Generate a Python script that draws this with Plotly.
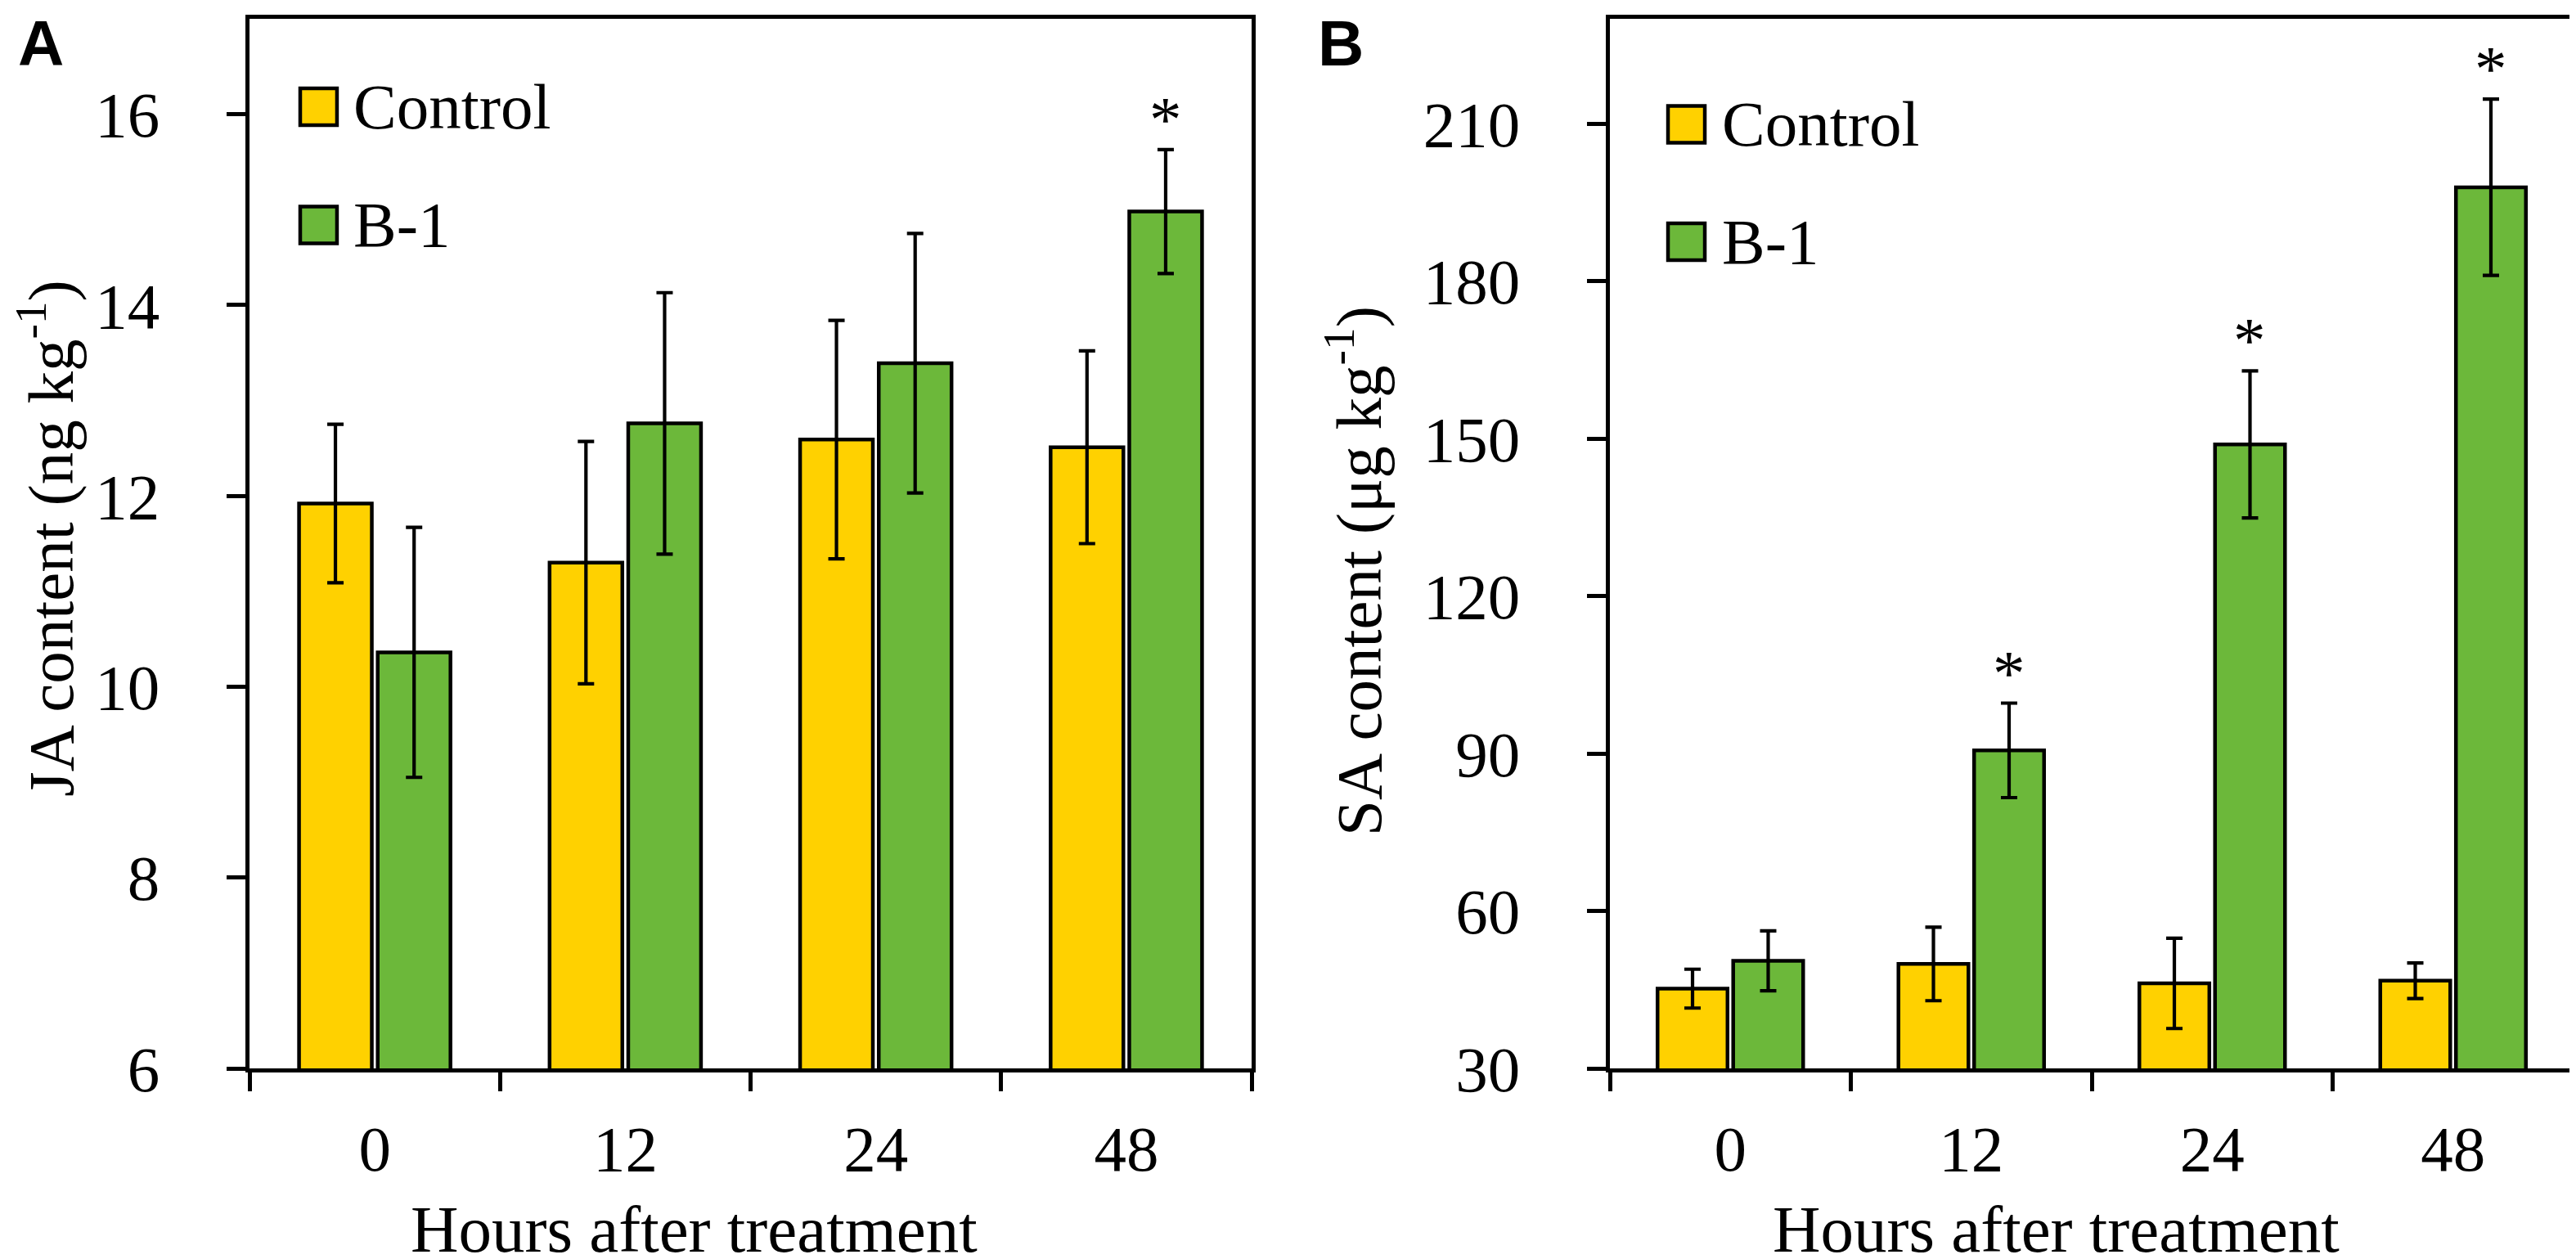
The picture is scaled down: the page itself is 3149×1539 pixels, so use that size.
import plotly.graph_objects as go

# ---------------- data ----------------
hours = ["0", "12", "24", "48"]

ja_control = [11.92, 11.30, 12.59, 12.51]
ja_control_err = [0.83, 1.27, 1.25, 1.01]
ja_b1 = [10.36, 12.76, 13.39, 14.98]
ja_b1_err = [1.31, 1.37, 1.36, 0.65]
ja_sig = [False, False, False, True]

sa_control = [45.2, 49.9, 46.2, 46.7]
sa_control_err = [3.7, 7.0, 8.6, 3.4]
sa_b1 = [50.5, 90.6, 148.9, 197.9]
sa_b1_err = [5.7, 9.0, 14.0, 16.8]
sa_sig = [False, True, True, True]

ja_ticks = [6, 8, 10, 12, 14, 16]
sa_ticks = [30, 60, 90, 120, 150, 180, 210]

series_names = ["Control", "B-1"]
colors = ["#FFD100", "#6CB83A"]

# ---------------- layout geometry ----------------
W, H = 3149, 1539
ML, MR, MT, MB = 297, 11, 15, 241
PW = W - ML - MR
PH = H - MT - MB


def px_x(x):
    return (x - ML) / PW


def px_y(y):
    return (H - MB - y) / PH


SERIF = "Liberation Serif"
SANS = "Liberation Sans"
FS = 79
BARGAP = 0.372
GROUPGAP = 0.075
LW = 4.5

domA = [0, px_x(1522)]
domB = [px_x(1960), 1]

fig = go.Figure()


def add_bars(vals_c, err_c, vals_b, err_b, xa, ya):
    for name, vals, errs, col in [
        (series_names[0], vals_c, err_c, colors[0]),
        (series_names[1], vals_b, err_b, colors[1]),
    ]:
        fig.add_trace(go.Bar(
            x=hours, y=vals, name=name,
            xaxis=xa, yaxis=ya,
            marker=dict(color=col, line=dict(color="black", width=LW)),
            error_y=dict(type="data", array=errs, visible=True,
                         color="black", thickness=4.2, width=10),
            showlegend=False,
        ))


add_bars(ja_control, ja_control_err, ja_b1, ja_b1_err, "x", "y")
add_bars(sa_control, sa_control_err, sa_b1, sa_b1_err, "x2", "y2")

axis_common = dict(
    showline=True, linecolor="black", linewidth=5, mirror=True,
    ticks="outside", tickcolor="black", tickwidth=4.5, ticklen=23,
    tickfont=dict(family=SERIF, size=FS, color="black"),
    showgrid=False, zeroline=False,
)

xcat = dict(type="category", categoryorder="array", categoryarray=hours,
            range=[-0.5, len(hours) - 0.5], tickson="boundaries",
            tickangle=0, ticklabelstandoff=25)

fig.update_layout(
    width=W, height=H,
    margin=dict(l=ML, r=MR, t=MT, b=MB, autoexpand=False),
    paper_bgcolor="white", plot_bgcolor="white",
    barmode="group", bargap=BARGAP, bargroupgap=GROUPGAP,
    showlegend=False,
    font=dict(family=SERIF, size=FS, color="black"),
    xaxis=dict(domain=domA, anchor="y", **xcat, **axis_common),
    yaxis=dict(domain=[0, 1], anchor="x", range=[6, 17],
               tickvals=ja_ticks, ticklabelstandoff=66, **axis_common),
    xaxis2=dict(domain=domB, anchor="y2", **xcat, **axis_common),
    yaxis2=dict(domain=[0, 1], anchor="x2", range=[30, 230],
                tickvals=sa_ticks, ticklabelstandoff=66, **axis_common),
)

annotations = []
shapes = []

# significance asterisks above the B-1 error bars
slot_half = (1 - BARGAP) / 4  # offset of second bar centre, in category units
for xa, ya, vals, errs, sig in [
    ("x", "y", ja_b1, ja_b1_err, ja_sig),
    ("x2", "y2", sa_b1, sa_b1_err, sa_sig),
]:
    for i, (v, e, s) in enumerate(zip(vals, errs, sig)):
        if s:
            annotations.append(dict(
                x=i + slot_half, y=v + e, xref=xa, yref=ya, text="*",
                showarrow=False, xanchor="center", yanchor="bottom",
                yshift=-8,
                font=dict(family=SERIF, size=FS, color="black"),
            ))

# legends (drawn inside each panel)
for xa, ya, x0, x1, text_x, ys in [
    ("x", "y", 0.0506, 0.0873, 0.102, [0.9162, 0.8036]),
    ("x2", "y2", 0.0603, 0.0985, 0.1146, [0.8995, 0.7877]),
]:
    half = 22.5 / PH
    for name, col, yc in zip(series_names, colors, ys):
        shapes.append(dict(
            type="rect", xref=f"{xa} domain", yref=f"{ya} domain",
            x0=x0, x1=x1, y0=yc - half, y1=yc + half,
            fillcolor=col, line=dict(color="black", width=LW),
        ))
        annotations.append(dict(
            x=text_x, y=yc, xref=f"{xa} domain", yref=f"{ya} domain",
            text=name, showarrow=False, xanchor="left", yanchor="middle",
            font=dict(family=SERIF, size=FS, color="black"),
        ))

# axis titles
annotations += [
    dict(x=px_x(840), y=px_y(1495), xref="paper", yref="paper",
         text="Hours after treatment", showarrow=False,
         xanchor="center", yanchor="middle",
         font=dict(family=SERIF, size=81, color="black")),
    dict(x=px_x(2505), y=px_y(1495), xref="paper", yref="paper",
         text="Hours after treatment", showarrow=False,
         xanchor="center", yanchor="middle",
         font=dict(family=SERIF, size=81, color="black")),
    dict(x=px_x(48), y=px_y(650), xref="paper", yref="paper",
         text="JA content (ng kg<sup>-1</sup>)", showarrow=False,
         textangle=-90, xanchor="center", yanchor="middle",
         font=dict(family=SERIF, size=FS, color="black")),
    dict(x=px_x(1647), y=px_y(690), xref="paper", yref="paper",
         text="SA content (μg kg<sup>-1</sup>)", showarrow=False,
         textangle=-90, xanchor="center", yanchor="middle",
         font=dict(family=SERIF, size=FS, color="black")),
    # panel letters
    dict(x=px_x(12), y=px_y(45), xref="paper", yref="paper",
         text="<b>A</b>", showarrow=False, xanchor="left", yanchor="middle",
         font=dict(family=SANS, size=78, color="black")),
    dict(x=px_x(1601), y=px_y(45), xref="paper", yref="paper",
         text="<b>B</b>", showarrow=False, xanchor="left", yanchor="middle",
         font=dict(family=SANS, size=78, color="black")),
]

fig.update_layout(annotations=annotations, shapes=shapes)

fig.write_html("out.html")
